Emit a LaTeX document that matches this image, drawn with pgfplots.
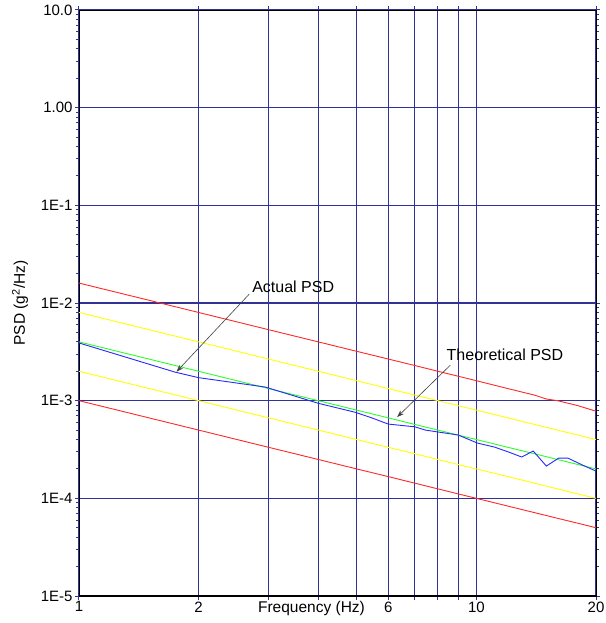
\documentclass[border=0pt]{standalone}
\usepackage{pgfplots}
\pgfplotsset{compat=1.18}
\usepackage{fontspec}
\setmainfont{Liberation Sans}
\usetikzlibrary{arrows.meta}

\definecolor{gridnavy}{RGB}{50,50,150}
\definecolor{pred}{RGB}{255,40,40}
\definecolor{pyellow}{RGB}{255,255,0}
\definecolor{pgreen}{RGB}{40,255,40}
\definecolor{pblue}{RGB}{40,40,255}

\begin{document}
\begin{tikzpicture}
\begin{axis}[
    name=ax,
    scale only axis,
    width=517pt, height=586pt,
    xmode=log, ymode=log,
    xmin=1, xmax=20,
    ymin=1e-5, ymax=10,
    xtick={1,2,3,4,5,6,7,8,9,10,20},
    xticklabels={1,2,,,,6,,,,10,20},
    ytick={1e-5,1e-4,1e-3,1e-2,1e-1,1,10},
    yticklabels={1E-5,1E-4,1E-3,1E-2,1E-1,1.00,10.0},
    minor tick num=0,
    grid=major,
    major grid style={gridnavy, line width=1.1pt},
    tick align=outside,
    major tick length=4pt,
    tick style={gridnavy, line width=1pt},
    axis line style={black, line width=0.8pt},
    ticklabel style={font=\fontsize{15}{18}\selectfont},
    /pgf/number format/assume math mode=true,
    xticklabel style={yshift=2pt},
    yticklabel style={xshift=1pt},
    xlabel={Frequency (Hz)},
    ylabel={PSD (g\textsuperscript{2}/Hz)},
    label style={font=\fontsize{15.5}{18}\selectfont},
    xlabel style={at={(axis description cs:0.5,0)}, anchor=center, yshift=-12pt, xshift=-26pt},
    ylabel style={at={(axis description cs:0,0.5)}, anchor=center, yshift=59pt},
]
% +6 dB
\addplot[pred, line width=0.9pt] coordinates {
 (1,0.016) (2,0.008) (3,0.00533) (4,0.004) (5,0.0032) (6,0.00267) (7,0.00229)
 (8,0.002) (9,0.00178) (10,0.0016) (12,0.00133) (14,0.00114) (15,0.00104)
 (16,0.00100) (18,0.00089) (20,0.00078)
};
% -6 dB
\addplot[pred, line width=0.9pt] coordinates {
 (1,0.001) (2,0.0005) (3,0.000333) (4,0.00025) (5,0.0002) (6,0.000167) (7,0.000143)
 (8,0.000125) (9,0.000111) (10,0.0001) (12,0.0000833) (14,0.0000714) (16,0.0000625)
 (18,0.0000556) (20,0.00005)
};
% +3 dB
\addplot[pyellow, line width=0.9pt] coordinates {
 (1,0.008) (2,0.004) (3,0.00267) (4,0.002) (5,0.0016) (6,0.00133) (7,0.00114)
 (8,0.001) (9,0.000889) (10,0.0008) (12,0.000667) (14,0.000571) (16,0.0005)
 (18,0.000444) (20,0.0004)
};
% -3 dB
\addplot[pyellow, line width=0.9pt] coordinates {
 (1,0.002) (2,0.001) (3,0.000667) (4,0.0005) (5,0.0004) (6,0.000333) (7,0.000286)
 (8,0.00025) (9,0.000222) (10,0.0002) (12,0.000167) (14,0.000143) (16,0.000125)
 (18,0.000111) (20,0.0001)
};
% theoretical
\addplot[pgreen, line width=0.9pt] coordinates {
 (1,0.004) (2,0.002) (3,0.00133) (4,0.001) (5,0.0008) (6,0.000667) (7,0.000571)
 (8,0.0005) (9,0.000444) (10,0.0004) (12,0.000333) (14,0.000286) (16,0.00025)
 (18,0.000222) (20,0.0002)
};
% actual
\addplot[pblue, line width=0.9pt] coordinates {
 (1,0.0039) (1.745,0.00196) (2,0.00172) (2.94,0.00138) (4,0.00094) (4.96,0.00076)
 (5.47,0.000664) (6,0.000576) (7,0.00054) (7.44,0.0005) (9,0.000445) (10.06,0.000368)
 (11.1,0.000335) (12.05,0.000298) (13,0.000265) (13.9,0.000305) (15,0.000214)
 (16.1,0.000258) (17,0.000258) (18.5,0.000219) (20,0.00019)
};
\draw[black!75, line width=0.6pt, -{Stealth[length=7pt,width=5pt]}]
    (axis cs:2.68,0.0123) -- (axis cs:1.76,0.00198);
\node[font=\fontsize{16}{18}\selectfont] at (axis cs:3.46,0.01456) {Actual PSD};
\draw[black!75, line width=0.6pt, -{Stealth[length=7pt,width=5pt]}]
    (axis cs:8.6,0.00231) -- (axis cs:6.32,0.00068);
\node[font=\fontsize{16}{18}\selectfont] at (axis cs:11.8,0.00293) {Theoretical PSD};
\draw[black, line width=2pt] (rel axis cs:0,0) -- (rel axis cs:1,0);
\end{axis}
\pgfresetboundingbox
\useasboundingbox ([shift={(-79pt,-27pt)}]ax.south west) rectangle ([shift={(9pt,10pt)}]ax.north east);
\end{tikzpicture}
\end{document}
